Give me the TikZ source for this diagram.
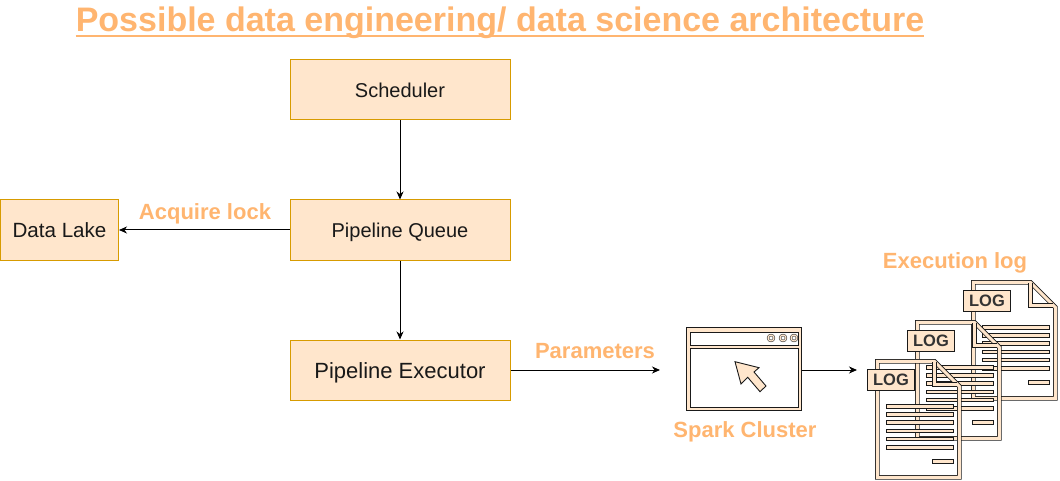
\documentclass[tikz,border=0pt]{standalone}
\usepackage{fontspec}
\setmainfont{Liberation Sans}
\usetikzlibrary{arrows.meta}
\definecolor{boxfill}{HTML}{FFE6CC}
\definecolor{boxline}{HTML}{D79B00}
\definecolor{lblc}{HTML}{FFB570}
\definecolor{dark}{HTML}{1A1A1A}
\tikzset{
  box/.style={draw=boxline, fill=boxfill, line width=1pt, minimum width=220pt, minimum height=60pt,
    inner sep=0pt, text=black!90, font=\fontsize{20}{24}\selectfont, text height=15pt, text depth=-5pt},
  lbl/.style={text=lblc, font=\bfseries\fontsize{22}{26}\selectfont, anchor=base, inner sep=0pt},
  titlestyle/.style={text=lblc, font=\bfseries\fontsize{34}{40}\selectfont, anchor=base, inner sep=0pt},
  arr/.style={-{Stealth[length=8pt,width=7pt,inset=2.5pt]}, line width=1pt, draw=black},
  docband/.style={draw=dark, line width=0.8pt, double=boxfill, double distance=3pt, line join=miter},
  lband/.style={draw=dark, fill=boxfill, line width=0.7pt},
  logtag/.style={draw=dark, fill=boxfill, line width=0.9pt, minimum width=47pt, minimum height=21pt,
    inner sep=0pt, text=black!80, font=\bfseries\fontsize{16.5}{18}\selectfont, text height=11.8pt, text depth=0pt},
  winpart/.style={draw=dark, fill=white, line width=0.9pt},
}
\newcommand\logdoc[3]{%
  \begin{scope}[shift={(#2,#3)}]
    \draw[docband] (0,0) -- (57,0) -- (82,25) -- (82,116) -- (0,116) -- cycle;
    \draw[docband] (57,1) -- (57,23) -- (80,23);
    \foreach \k in {0,...,5} \draw[lband] (8.6,{43+8.2*\k}) rectangle (75.6,{46.6+8.2*\k});
    \draw[lband] (54.6,98) rectangle (75.6,101.6);
    \node[logtag] (#1) at (13.6,18.6) {LOG};
  \end{scope}}
\begin{document}
\begin{tikzpicture}[x=1pt,y=-1pt]
  \useasboundingbox (0,0) rectangle (1060,481);
  % title
  \node[titlestyle] (title) at (500,32) {Possible data engineering/ data science architecture};
  \draw[lblc, line width=2.5pt] (title.west |- 0,35.8) -- (title.east |- 0,35.8);
  % boxes
  \node[box] (sched) at (400,90) {Scheduler};
  \node[box] (queue) at (400,230) {Pipeline Queue};
  \node[box, font=\fontsize{22}{26}\selectfont, text height=16pt, text depth=-6pt] (exec) at (400,370) {Pipeline Executor};
  \node[box, minimum width=118pt, font=\fontsize{20.6}{24}\selectfont] (lake) at (59.5,230) {Data Lake};
  % connectors
  \draw[arr] (sched) -- (queue);
  \draw[arr] (queue) -- (lake);
  \draw[arr] (queue) -- (exec);
  \coordinate (sparkin) at (660,370);
  \draw[arr] (exec.east) -- (sparkin);
  % labels
  \node[lbl] (lock) at (205,220) {Acquire lock};
  \node[lbl] (params) at (595,358) {Parameters};
  \node[lbl] (sparklbl) at (745,437) {Spark Cluster};
  \node[lbl] (loglbl) at (955,268) {Execution log};
  % spark cluster window icon
  \node[draw=dark, fill=boxfill, line width=0.9pt, minimum width=115pt, minimum height=83pt, inner sep=0pt] (spark) at (744,369) {};
  \draw[winpart] (690,332) rectangle (798,345);
  \draw[winpart] (690,348) rectangle (798,407);
  \foreach \cx in {771,783,794}
    \draw[draw=dark, line width=0.5pt, double=boxfill, double distance=1.2pt] (\cx,338) circle (3);
  \draw[draw=dark, fill=boxfill, line width=0.9pt, line join=miter]
    (735,361.7) -- (741,384) -- (747.7,377.3) -- (760,391.7) -- (766,386) -- (754,372) -- (759,367.7) -- cycle;
  \coordinate (login) at (857,370);
  \draw[arr] (spark.east |- login) -- (login);
  % execution log documents
  \logdoc{logc}{973.4}{282.4}
  \logdoc{logb}{917.4}{322.4}
  \logdoc{loga}{877.4}{361.4}
\end{tikzpicture}
\end{document}
